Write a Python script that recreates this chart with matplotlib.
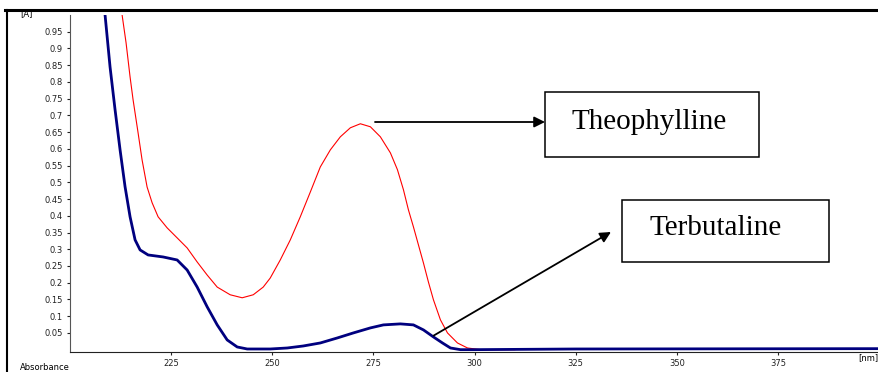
import matplotlib.pyplot as plt
from matplotlib.lines import Line2D
from matplotlib.patches import Rectangle

# wavelength (nm) / absorbance
terb_nm  = [208.2, 208.66, 209.90, 211.14, 212.38, 213.61, 214.85, 216.09, 217.33, 219.31,
            223.02, 226.49, 228.96, 231.44, 233.91, 236.39, 238.86, 241.34, 243.81, 249.50,
            253.71, 257.67, 261.88, 266.09, 270.05, 274.26, 277.48, 281.68, 284.90, 287.38,
            289.85, 292.08, 294.06, 296.53, 299.75, 325.0, 400.0]
terb_abs = [1.045, 1.001, 0.845, 0.717, 0.597, 0.487, 0.397, 0.328, 0.298, 0.283,
            0.277, 0.268, 0.238, 0.187, 0.128, 0.074, 0.029, 0.008, 0.002, 0.002,
            0.005, 0.011, 0.020, 0.035, 0.050, 0.065, 0.074, 0.077, 0.074, 0.059,
            0.038, 0.020, 0.005, 0.0, 0.0, 0.002, 0.003]

theo_nm  = [212.6, 212.87, 213.86, 214.85, 215.59, 216.83, 217.82, 219.06, 220.30, 221.78,
            224.01, 226.49, 228.96, 231.44, 233.91, 236.39, 239.60, 242.57, 245.30, 247.77,
            249.50, 251.98, 254.46, 256.93, 259.41, 261.88, 264.36, 266.83, 269.31, 271.78,
            274.26, 276.73, 279.21, 280.94, 282.43, 283.66, 284.90, 286.14, 287.38, 288.61,
            289.85, 291.58, 293.32, 295.79, 298.27, 301.49, 310.0]
theo_abs = [1.045, 1.001, 0.917, 0.815, 0.747, 0.648, 0.567, 0.486, 0.439, 0.397,
            0.364, 0.334, 0.304, 0.262, 0.223, 0.187, 0.164, 0.155, 0.164, 0.187,
            0.214, 0.268, 0.328, 0.397, 0.471, 0.546, 0.597, 0.636, 0.663, 0.675,
            0.666, 0.636, 0.588, 0.538, 0.478, 0.418, 0.367, 0.313, 0.259, 0.202,
            0.149, 0.089, 0.050, 0.020, 0.005, 0.0, 0.0]

y_ticks  = [0.05, 0.1, 0.15, 0.2, 0.25, 0.3, 0.35, 0.4, 0.45, 0.5,
            0.55, 0.6, 0.65, 0.7, 0.75, 0.8, 0.85, 0.9, 0.95]
x_ticks  = [225, 250, 275, 300, 325, 350, 375]

W, H = 879, 372
def fx(px): return px / W
def fy(py): return 1 - py / H

fig = plt.figure(figsize=(8.79, 3.72), dpi=100)
ax = fig.add_axes([fx(70), fy(352), fx(809), (352 - 15) / H])

ax.plot(theo_nm, theo_abs, color="red", linewidth=0.8)
ax.plot(terb_nm, terb_abs, color="#00007f", linewidth=2.0, solid_joinstyle="round")

ax.set_xlim(200, 400)
ax.set_ylim(-0.007, 1.0)
ax.set_yticks(y_ticks)
ax.set_yticklabels([f"{t:g}" for t in y_ticks])
ax.set_xticks(x_ticks)
ax.tick_params(axis="both", labelsize=6, length=2, width=0.8, colors="#222222", pad=3)
for s in ["top", "right"]:
    ax.spines[s].set_visible(False)
ax.spines["left"].set_color("#555555")
ax.spines["bottom"].set_color("#222222")

# axis captions like the instrument output
fig.text(fx(20), fy(14), "[A]", fontsize=6, va="center", ha="left")
fig.text(fx(20), fy(368), "Absorbance", fontsize=6, va="center", ha="left")
fig.text(fx(878), fy(358), "[nm]", fontsize=6, va="center", ha="right")

# outer frame (top and left edge)
fig.add_artist(Line2D([fx(5), 1], [fy(10), fy(10)], color="black", linewidth=2.2))
fig.add_artist(Line2D([fx(7), fx(7)], [0, fy(10)], color="black", linewidth=1.5))

# label boxes
for x0, y0, x1, y1 in [(545, 92, 759, 157), (622, 200, 829, 262)]:
    fig.add_artist(Rectangle((fx(x0), fy(y1)), fx(x1 - x0), (y1 - y0) / H,
                             transform=fig.transFigure, facecolor="white",
                             edgecolor="black", linewidth=1.1))
fig.text(fx(649), fy(122), "Theophylline", fontsize=21, family="Liberation Serif",
         ha="center", va="center")
fig.text(fx(716), fy(228), "Terbutaline", fontsize=21, family="Liberation Serif",
         ha="center", va="center")

# arrows to the boxes
ax.annotate("", xy=(fx(545), fy(122)), xycoords="figure fraction",
            xytext=(fx(375), fy(122)), textcoords="figure fraction",
            arrowprops=dict(arrowstyle="-|>", color="black", lw=1.3, mutation_scale=16,
                            shrinkA=0, shrinkB=0))
ax.annotate("", xy=(fx(611), fy(232)), xycoords="figure fraction",
            xytext=(289.9, 0.042), textcoords="data",
            arrowprops=dict(arrowstyle="-|>", color="black", lw=1.3, mutation_scale=16,
                            shrinkA=0, shrinkB=0))

fig.savefig("out.png", dpi=100)
